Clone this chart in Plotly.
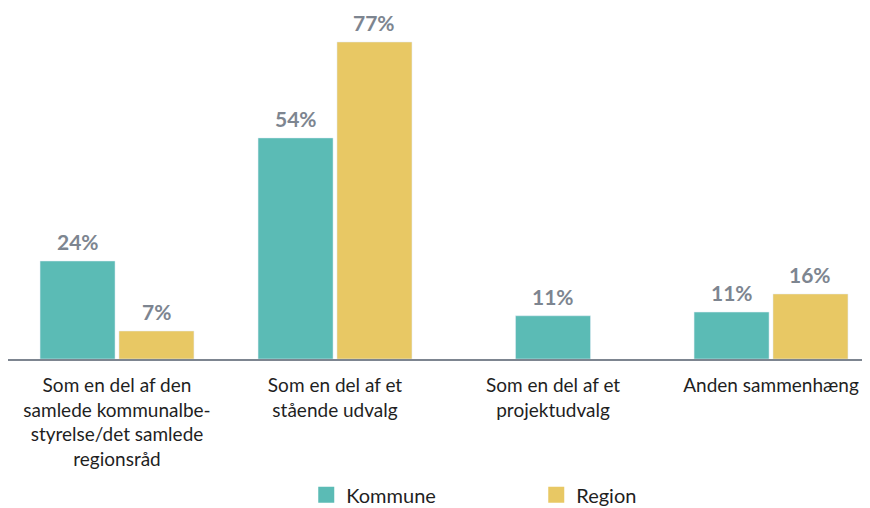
import plotly.graph_objects as go

categories = [
    "Som en del af den<br>samlede kommunalbe-<br>styrelse/det samlede<br>regionsråd",
    "Som en del af et<br>stående udvalg",
    "Som en del af et<br>projektudvalg",
    "Anden sammenhæng",
]
kommune = [23.8, 53.7, 10.5, 11.4]
region = [6.8, 77.0, None, 15.8]
kommune_labels = ["24%", "54%", "11%", "11%"]
region_labels = ["7%", "77%", "", "16%"]

TEAL = "#5bbbb5"
YELLOW = "#e8c864"
LABEL_GRAY = "#7d8590"
FONT = "Lato, 'Open Sans', sans-serif"

w = 0.344
g = 0.018
k_off = [(-w / 2 if region[i] is None else -(w + g / 2)) for i in range(len(categories))]
r_off = [g / 2 for _ in categories]

fig = go.Figure()
fig.add_trace(go.Bar(x=categories, y=kommune, name="Kommune", marker_color=TEAL,
                     width=w, offset=k_off, showlegend=False, hoverinfo="skip"))
fig.add_trace(go.Bar(x=categories, y=region, name="Region", marker_color=YELLOW,
                     width=w, offset=r_off, showlegend=False, hoverinfo="skip"))
# legend entries with larger square swatches
fig.add_trace(go.Scatter(x=[None], y=[None], mode="markers", name="Kommune",
                         marker=dict(symbol="square", size=22, color=TEAL)))
fig.add_trace(go.Scatter(x=[None], y=[None], mode="markers", name="Region",
                         marker=dict(symbol="square", size=22, color=YELLOW)))

annotations = []
for i in range(len(categories)):
    if kommune[i] is not None:
        annotations.append(dict(x=i + k_off[i] + w / 2, y=kommune[i], text=kommune_labels[i],
                                showarrow=False, yanchor="bottom", yshift=5,
                                font=dict(family=FONT, size=21, color=LABEL_GRAY, weight="bold")))
    if region[i] is not None:
        annotations.append(dict(x=i + r_off[i] + w / 2, y=region[i], text=region_labels[i],
                                showarrow=False, yanchor="bottom", yshift=5,
                                font=dict(family=FONT, size=21, color=LABEL_GRAY, weight="bold")))

fig.update_layout(
    width=862, height=500,
    margin=dict(l=0, r=0, t=2, b=149, autoexpand=False),
    paper_bgcolor="white", plot_bgcolor="white",
    barmode="overlay",
    font=dict(family=FONT, size=19, color="#222222"),
    xaxis=dict(type="category", range=[-0.5, 3.454], showgrid=False, zeroline=False,
               showline=True, linecolor="#7d8590", linewidth=2, ticks="",
               ticklabelstandoff=8, tickfont=dict(size=19, color="#1f1f1f")),
    yaxis=dict(range=[0, 84.77], visible=False),
    legend=dict(orientation="h", x=0.346, xanchor="left", y=-0.333, yanchor="top",
                font=dict(size=20, color="#1f1f1f"), entrywidth=185, entrywidthmode="pixels",
                itemsizing="trace"),
    annotations=annotations,
)

fig.write_html("out.html")
